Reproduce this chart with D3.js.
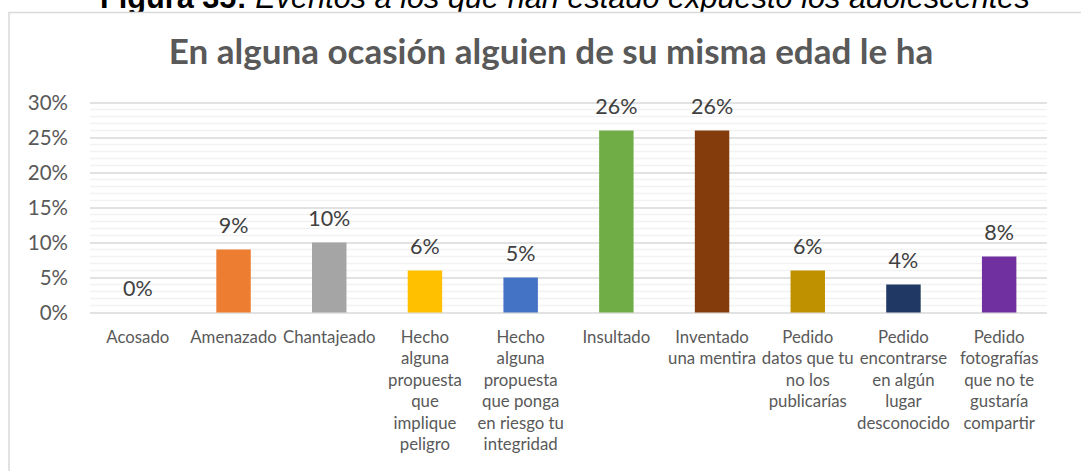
<!DOCTYPE html>
<html>
<head>
<meta charset="utf-8">
<script src="https://cdn.jsdelivr.net/npm/d3@7"></script>
<style>
  html, body { margin: 0; padding: 0; background: #fff; overflow: hidden; }
  svg { display: block; }
</style>
</head>
<body>
<svg id="chart" width="1081" height="471"></svg>
<script>
// categories, values (percent) and wrapped tick labels
var categories = ["Acosado", "Amenazado", "Chantajeado", "Hecho alguna propuesta que implique peligro",
  "Hecho alguna propuesta que ponga en riesgo tu integridad", "Insultado", "Inventado una mentira",
  "Pedido datos que tu no los publicarías", "Pedido encontrarse en algún lugar desconocido",
  "Pedido fotografías que no te gustaría compartir"];
var values = [0, 9, 10, 6, 5, 26, 26, 6, 4, 8];
var tickLines = [
  ["Acosado"],
  ["Amenazado"],
  ["Chantajeado"],
  ["Hecho", "alguna", "propuesta", "que", "implique", "peligro"],
  ["Hecho", "alguna", "propuesta", "que ponga", "en riesgo tu", "integridad"],
  ["Insultado"],
  ["Inventado", "una mentira"],
  ["Pedido", "datos que tu", "no los", "publicarías"],
  ["Pedido", "encontrarse", "en algún", "lugar", "desconocido"],
  ["Pedido", "fotografías", "que no te", "gustaría", "compartir"]
];
var barColors = ["#5b9bd5", "#ed7d31", "#a5a5a5", "#ffc000", "#4472c4", "#70ad47",
  "#843c0c", "#bf9000", "#203864", "#7030a0"];
var yTicks = [0, 5, 10, 15, 20, 25, 30];

var svg = d3.select("#chart");
var font = "Lato, 'Open Sans', sans-serif";

// caption above the chart frame (cut by the page top, as in the source)
var cap = svg.append("text").attr("x", 100).attr("y", 8)
  .style("font-family", "'Liberation Sans', Arial, sans-serif").style("font-size", "30.7px").attr("fill", "#000");
cap.append("tspan").style("font-weight", "bold").text("Figura 35: ");
cap.append("tspan").style("font-style", "italic").text("Eventos a los que han estado expuesto los adolescentes");

// chart frame
svg.append("rect").attr("x", 9).attr("y", 12.5).attr("width", 1100).attr("height", 500)
  .attr("fill", "#fff").attr("stroke", "#d9d9d9").attr("stroke-width", 1.5);

svg.append("text").attr("x", 551).attr("y", 64).attr("text-anchor", "middle")
  .style("font-family", font).style("font-size", "35px").style("font-weight", "bold")
  .attr("fill", "#595959").text("En alguna ocasión alguien de su misma edad le ha");

var x = d3.scaleBand().domain(categories).range([90, 1047]).paddingInner(0.64).paddingOuter(0.32);
var y = d3.scaleLinear().domain([0, 30]).range([312.5, 102.5]);

// minor gridlines every 1%
svg.append("g").selectAll("line").data(d3.range(1, 30).filter(function (d) { return d % 5; }))
  .enter().append("line")
  .attr("x1", 90).attr("x2", 1047).attr("y1", function (d) { return y(d); }).attr("y2", function (d) { return y(d); })
  .attr("stroke", "#f2f2f2").attr("stroke-width", 1.5);

// major gridlines + y labels
var yAxis = d3.axisLeft(y).tickValues(yTicks).tickSize(-957).tickFormat(function (d) { return d + "%"; });
var gy = svg.append("g").attr("transform", "translate(90,0)").call(yAxis);
gy.select(".domain").remove();
gy.selectAll(".tick line").attr("stroke", "#d9d9d9").attr("stroke-width", 1.5);
gy.selectAll(".tick text").attr("x", -22).attr("dy", "0.35em")
  .style("font-family", font).style("font-size", "20.5px").attr("fill", "#595959");

// bars
svg.append("g").selectAll("rect").data(values).enter().append("rect")
  .attr("x", function (d, i) { return x(categories[i]); })
  .attr("width", x.bandwidth())
  .attr("y", function (d) { return y(d); })
  .attr("height", function (d) { return y(0) - y(d); })
  .attr("fill", function (d, i) { return barColors[i]; });

// data labels
svg.append("g").selectAll("text").data(values).enter().append("text")
  .attr("x", function (d, i) { return x(categories[i]) + x.bandwidth() / 2; })
  .attr("y", function (d) { return y(d) - 17; })
  .attr("text-anchor", "middle")
  .style("font-family", font).style("font-size", "21.5px").attr("fill", "#404040")
  .text(function (d) { return d + "%"; });

// category labels
var xl = svg.append("g").selectAll("text").data(tickLines).enter().append("text")
  .attr("text-anchor", "middle")
  .style("font-family", font).style("font-size", "16.8px").attr("fill", "#595959")
  .attr("transform", function (d, i) { return "translate(" + (x(categories[i]) + x.bandwidth() / 2) + ",343)"; });
xl.selectAll("tspan").data(function (d) { return d; }).enter().append("tspan")
  .attr("x", 0).attr("y", function (d, j) { return j * 21.4; }).text(function (d) { return d; });
</script>
</body>
</html>
